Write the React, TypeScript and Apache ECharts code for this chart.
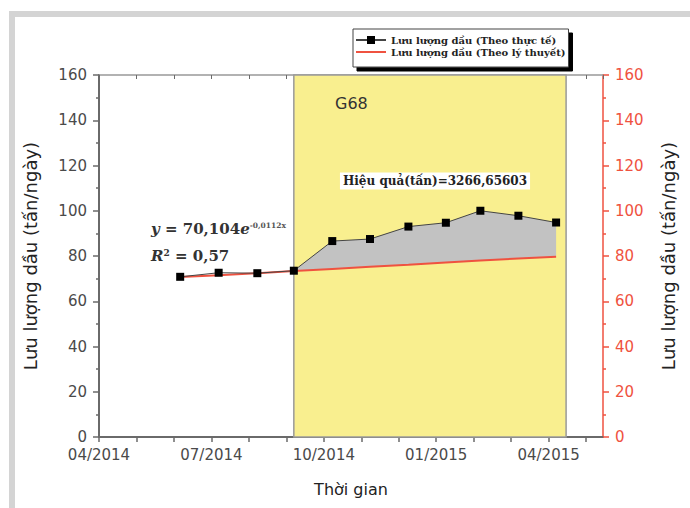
import React, { useEffect, useRef } from 'react';
import * as echarts from 'echarts';

// ---- data ----
const DATES = ['2014-06-06', '2014-07-07', '2014-08-08', '2014-09-07', '2014-10-08', '2014-11-08', '2014-12-09', '2015-01-09', '2015-02-06', '2015-03-07', '2015-04-07'];
const ACTUAL = [70.8, 72.6, 72.4, 73.5, 86.6, 87.5, 93.0, 94.7, 100.0, 97.8, 94.8];
const THEORY = [70.7, 71.5, 72.4, 73.4, 74.3, 75.2, 76.1, 77.1, 78.0, 78.9, 79.7];
const X_TICK_LABELS = ['04/2014', '07/2014', '10/2014', '01/2015', '04/2015'];
const AXIS_START = '2014-04-01';
const AXIS_END = '2015-05-15';
const SHADE_START = '2014-09-07';
const SHADE_END = '2015-04-15';
const FILL_FROM = 3;
const Y_MIN = 0;
const Y_MAX = 160;
const Y_INTERVAL = 20;

const NAME_ACTUAL = 'Lưu lượng dầu (Theo thực tế)';
const NAME_THEORY = 'Lưu lượng dầu (Theo lý thuyết)';
const Y_NAME = 'Lưu lượng dầu (tấn/ngày)';
const X_NAME = 'Thời gian';

const base = new Date(AXIS_START);
function monthOffset(s: string): number {
  const [y, m, d] = s.split('-').map(Number);
  const dim = new Date(y, m, 0).getDate();
  return (y - base.getFullYear()) * 12 + (m - (base.getMonth() + 1)) + (d - 1) / dim;
}

const X = DATES.map(monthOffset);
const X_MIN = 0;
const X_MAX = monthOffset(AXIS_END);

const RED = '#ef5240';
const AXIS_GRAY = '#6a6a6a';

export default function App() {
  const ref = useRef<HTMLDivElement>(null);
  useEffect(() => {
    if (!ref.current) return;
    const chart = echarts.init(ref.current, undefined, { renderer: 'svg' });
    const fillX = X.slice(FILL_FROM);
    const tickFont = { fontFamily: 'DejaVu Sans', fontSize: 15 };
    const option: any = {
      animation: false,
      grid: { left: 99, right: 87, top: 75, bottom: 71, containLabel: false },
      legend: {
        orient: 'vertical',
        left: 353,
        top: 29,
        itemWidth: 30,
        itemHeight: 10,
        itemGap: 2,
        padding: [6, 3, 10, 2],
        backgroundColor: '#fff',
        borderColor: '#444',
        borderWidth: 1,
        borderRadius: 0,
        shadowColor: '#000',
        shadowBlur: 0,
        shadowOffsetX: 4,
        shadowOffsetY: 4,
        selectedMode: false,
        data: [
          { name: NAME_ACTUAL },
          { name: NAME_THEORY, icon: 'path://M0,0 H30 V2 H0 Z' },
        ],
        textStyle: { fontFamily: 'DejaVu Serif', fontWeight: 'bold', fontSize: 10, color: '#222', lineHeight: 10 },
      },
      xAxis: [
        {
          type: 'value',
          position: 'bottom',
          min: X_MIN,
          max: X_MAX,
          interval: 1,
          name: X_NAME,
          nameLocation: 'middle',
          nameGap: 44,
          nameTextStyle: { fontFamily: 'DejaVu Sans', fontSize: 16, color: '#222' },
          axisLine: { show: true, onZero: false, lineStyle: { color: AXIS_GRAY, width: 2 } },
          axisTick: { show: true, length: 5, lineStyle: { color: AXIS_GRAY, width: 1.5 } },
          axisLabel: {
            ...tickFont,
            color: '#4a4a4a',
            margin: 10,
            showMaxLabel: false,
            formatter: (v: number) => {
              const r = Math.round(v);
              if (Math.abs(v - r) > 1e-6 || r % 3 !== 0) return '';
              return X_TICK_LABELS[r / 3] ?? '';
            },
          },
          splitLine: { show: false },
        },
        {
          type: 'value',
          position: 'top',
          min: X_MIN,
          max: X_MAX,
          interval: 1,
          axisLine: { show: true, onZero: false, lineStyle: { color: '#999', width: 1.5 } },
          axisTick: { show: true, inside: true, length: 4, lineStyle: { color: AXIS_GRAY } },
          axisLabel: { show: false },
          splitLine: { show: false },
        },
      ],
      yAxis: [
        {
          type: 'value',
          position: 'left',
          min: Y_MIN,
          max: Y_MAX,
          interval: Y_INTERVAL,
          name: Y_NAME,
          nameLocation: 'middle',
          nameGap: 60,
          nameTextStyle: { fontFamily: 'DejaVu Sans', fontSize: 18, color: '#222' },
          axisLine: { show: true, onZero: false, lineStyle: { color: AXIS_GRAY, width: 2 } },
          axisTick: { show: true, length: 6, lineStyle: { color: AXIS_GRAY, width: 1.5 } },
          minorTick: { show: true, splitNumber: 2, length: 3, lineStyle: { color: AXIS_GRAY, width: 1.5 } },
          axisLabel: { ...tickFont, color: '#4a4a4a', margin: 12, lineHeight: 14 },
          splitLine: { show: false },
        },
        {
          type: 'value',
          position: 'right',
          min: Y_MIN,
          max: Y_MAX,
          interval: Y_INTERVAL,
          name: Y_NAME,
          nameLocation: 'middle',
          nameGap: 56,
          nameRotate: 90,
          nameTextStyle: { fontFamily: 'DejaVu Sans', fontSize: 18, color: '#222' },
          axisLine: { show: true, onZero: false, lineStyle: { color: RED, width: 1.5 } },
          axisTick: { show: true, length: 6, lineStyle: { color: RED, width: 1.5 } },
          minorTick: { show: true, splitNumber: 2, length: 3, lineStyle: { color: RED, width: 1.5 } },
          axisLabel: { ...tickFont, color: RED, margin: 12 },
          splitLine: { show: false },
        },
      ],
      series: [
        {
          name: 'shade',
          type: 'line',
          data: [],
          z: 0,
          silent: true,
          markArea: {
            silent: true,
            itemStyle: { color: '#f9ef8f', borderColor: '#9a9a9a', borderWidth: 1.5 },
            data: [[{ xAxis: monthOffset(SHADE_START) }, { xAxis: monthOffset(SHADE_END) }]],
          },
        },
        {
          name: 'fill',
          type: 'custom',
          z: 1,
          silent: true,
          data: fillX.map((x, i) => [x, ACTUAL[FILL_FROM + i], THEORY[FILL_FROM + i]]),
          encode: { x: 0, y: [1, 2] },
          renderItem: (params: any, api: any) => {
            if (params.dataIndex !== 0) return null;
            const top = fillX.map((x, i) => api.coord([x, ACTUAL[FILL_FROM + i]]));
            const bottom = fillX.map((x, i) => api.coord([x, THEORY[FILL_FROM + i]])).reverse();
            return {
              type: 'polygon',
              shape: { points: top.concat(bottom) },
              style: { fill: '#c2c2c2', stroke: null },
            };
          },
        },
        {
          name: NAME_THEORY,
          type: 'line',
          z: 2,
          data: X.map((x, i) => [x, THEORY[i]]),
          symbol: 'none',
          lineStyle: { color: RED, width: 2 },
          itemStyle: { color: RED },
        },
        {
          name: NAME_ACTUAL,
          type: 'line',
          z: 3,
          data: X.map((x, i) => [x, ACTUAL[i]]),
          symbol: 'rect',
          symbolSize: 8,
          lineStyle: { color: '#444', width: 1 },
          itemStyle: { color: '#000' },
        },
      ],
      graphic: [
        { type: 'rect', z: -10, shape: { x: 9, y: 11, width: 681, height: 6 }, style: { fill: '#d4d4d4' } },
        { type: 'rect', z: -10, shape: { x: 9, y: 11, width: 6, height: 497 }, style: { fill: '#d4d4d4' } },
        {
          type: 'text', z: 100, x: 335, y: 103,
          style: { text: 'G68', font: '16px "DejaVu Sans"', fill: '#333', verticalAlign: 'middle' },
        },
        {
          type: 'text', z: 100, x: 435, y: 181,
          style: {
            text: 'Hiệu quả(tấn)=3266,65603',
            font: 'bold 12px "DejaVu Serif"',
            fill: '#222',
            align: 'center',
            verticalAlign: 'middle',
            backgroundColor: '#fff',
            padding: [3, 3, 2, 3],
          },
        },
        {
          type: 'text', z: 100, x: 151, y: 229,
          style: {
            text: '{i|y} = 70,104{i|e}{sup|-0,0112x}',
            font: 'bold 15px "DejaVu Serif"',
            fill: '#333',
            verticalAlign: 'middle',
            rich: {
              i: { fontStyle: 'italic', fontWeight: 'bold', fontSize: 15, fontFamily: 'DejaVu Serif', fill: '#333' },
              sup: { fontSize: 7.5, fontFamily: 'DejaVu Serif', fontWeight: 'bold', verticalAlign: 'top', fill: '#555' },
            },
          },
        },
        {
          type: 'text', z: 100, x: 151, y: 256,
          style: {
            text: '{i|R}{sup|2} = 0,57',
            font: 'bold 15px "DejaVu Serif"',
            fill: '#333',
            verticalAlign: 'middle',
            rich: {
              i: { fontStyle: 'italic', fontWeight: 'bold', fontSize: 15, fontFamily: 'DejaVu Serif', fill: '#333' },
              sup: { fontSize: 9, fontFamily: 'DejaVu Serif', fontWeight: 'bold', verticalAlign: 'top', fill: '#333' },
            },
          },
        },
      ],
    };
    chart.setOption(option);
    return () => chart.dispose();
  }, []);
  return <div ref={ref} style={{ position: 'fixed', left: 0, top: 0, width: 690, height: 508, background: '#fff' }} />;
}
